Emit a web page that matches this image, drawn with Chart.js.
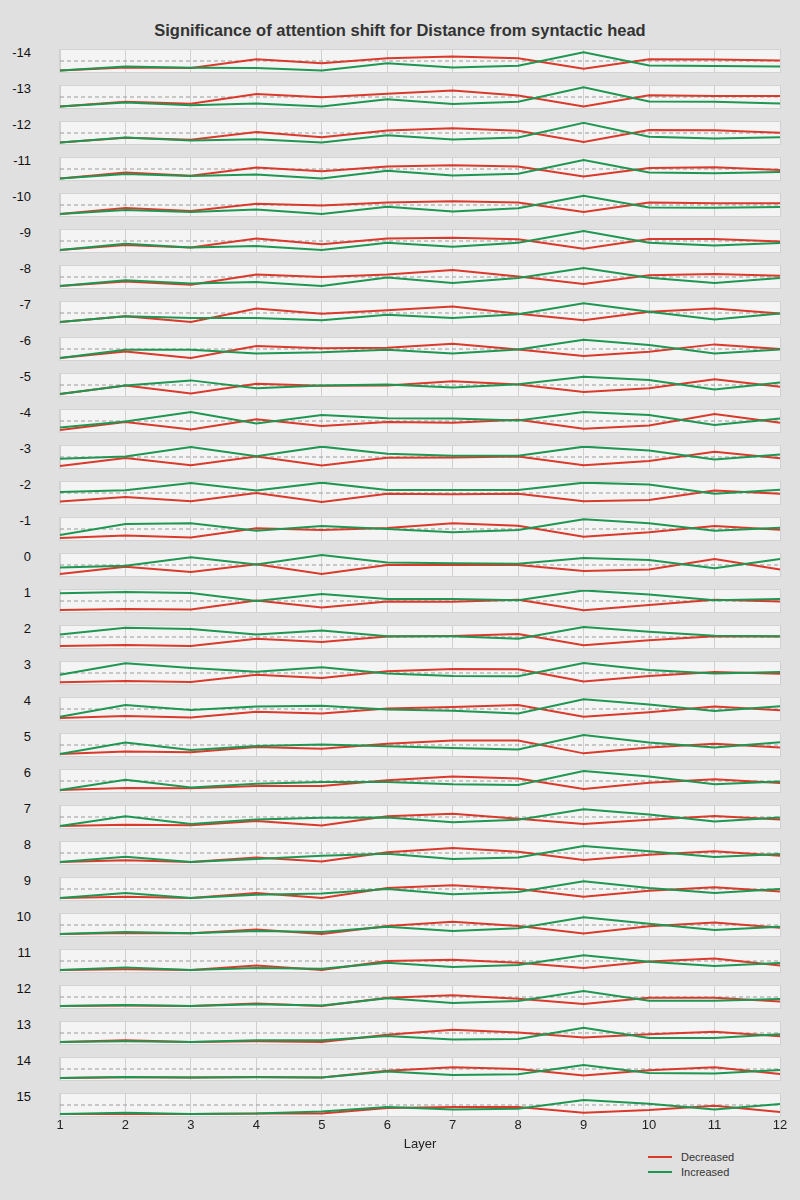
<!DOCTYPE html>
<html>
<head>
<meta charset="utf-8">
<script src="https://cdn.jsdelivr.net/npm/chart.js@4"></script>
<style>
  html, body { margin:0; padding:0; background:#e0e0e0; }
  #wrap { position:relative; width:800px; height:1200px; font-family:'Liberation Sans', Arial, sans-serif; }
  #title { position:absolute; left:0; top:21px; width:800px; text-align:center; font-size:16.5px; font-weight:bold; color:#333; }
  .rowlab { position:absolute; width:31px; text-align:right; font-size:13px; color:#111; line-height:16px; }
  .panel { position:absolute; left:0; }
  .leg { position:absolute; left:648px; font-size:11px; color:#333; line-height:14px; }
  .leg i { display:inline-block; width:24px; height:2px; vertical-align:middle; margin-right:9px; margin-top:-2px; }
</style>
</head>
<body>
<div id="wrap">
  <div id="title">Significance of attention shift for Distance from syntactic head</div>
  <div class="leg" style="top:1150px"><i style="background:#d93a2b"></i>Decreased</div>
  <div class="leg" style="top:1165px"><i style="background:#1f9651"></i>Increased</div>
</div>
<script>
// distance rows, top to bottom
const ROWS = [-14,-13,-12,-11,-10,-9,-8,-7,-6,-5,-4,-3,-2,-1,0,1,2,3,4,5,6,7,8,9,10,11,12,13,14,15];
const LAYERS = [1,2,3,4,5,6,7,8,9,10,11,12];
const THRESHOLD = 0.5;

// one list per row, one value per layer
const DECREASED = [
  [0.07,0.21,0.18,0.58,0.40,0.62,0.70,0.63,0.15,0.58,0.57,0.52],
  [0.07,0.28,0.19,0.64,0.49,0.65,0.79,0.57,0.07,0.58,0.55,0.54],
  [0.07,0.28,0.19,0.55,0.31,0.61,0.72,0.60,0.09,0.64,0.63,0.51],
  [0.07,0.34,0.19,0.57,0.40,0.61,0.67,0.61,0.16,0.55,0.58,0.46],
  [0.09,0.36,0.23,0.56,0.48,0.61,0.67,0.61,0.18,0.61,0.58,0.58],
  [0.09,0.32,0.20,0.61,0.35,0.61,0.65,0.58,0.15,0.59,0.59,0.48],
  [0.09,0.30,0.15,0.61,0.50,0.61,0.82,0.52,0.18,0.58,0.64,0.56],
  [0.09,0.35,0.09,0.70,0.47,0.62,0.80,0.47,0.17,0.56,0.70,0.48],
  [0.09,0.39,0.09,0.64,0.53,0.56,0.74,0.48,0.18,0.38,0.71,0.50],
  [0.09,0.48,0.11,0.56,0.47,0.48,0.67,0.52,0.18,0.35,0.76,0.42],
  [0.09,0.45,0.11,0.58,0.27,0.45,0.42,0.56,0.15,0.30,0.82,0.42],
  [0.09,0.45,0.12,0.52,0.11,0.47,0.48,0.52,0.12,0.32,0.74,0.44],
  [0.11,0.32,0.12,0.50,0.09,0.47,0.44,0.47,0.12,0.18,0.61,0.47],
  [0.09,0.21,0.11,0.53,0.45,0.55,0.76,0.65,0.15,0.35,0.64,0.47],
  [0.09,0.42,0.18,0.53,0.09,0.50,0.50,0.50,0.23,0.30,0.77,0.30],
  [0.09,0.14,0.11,0.52,0.20,0.48,0.47,0.56,0.08,0.32,0.56,0.48],
  [0.09,0.14,0.09,0.42,0.27,0.52,0.55,0.64,0.12,0.35,0.53,0.52],
  [0.08,0.14,0.09,0.42,0.27,0.58,0.68,0.67,0.11,0.36,0.55,0.47],
  [0.09,0.18,0.11,0.38,0.30,0.52,0.59,0.68,0.15,0.35,0.61,0.44],
  [0.09,0.20,0.17,0.41,0.33,0.56,0.70,0.70,0.12,0.39,0.56,0.39],
  [0.09,0.18,0.17,0.27,0.27,0.53,0.71,0.61,0.14,0.42,0.58,0.41],
  [0.09,0.15,0.12,0.32,0.11,0.53,0.65,0.42,0.18,0.38,0.55,0.39],
  [0.09,0.17,0.09,0.30,0.11,0.53,0.73,0.56,0.18,0.42,0.58,0.38],
  [0.09,0.15,0.09,0.32,0.09,0.55,0.67,0.50,0.15,0.42,0.58,0.39],
  [0.09,0.14,0.12,0.29,0.09,0.45,0.65,0.45,0.11,0.44,0.61,0.38],
  [0.09,0.12,0.09,0.30,0.09,0.50,0.56,0.42,0.18,0.48,0.61,0.30],
  [0.09,0.11,0.09,0.20,0.09,0.47,0.58,0.42,0.18,0.47,0.47,0.30],
  [0.09,0.17,0.09,0.12,0.09,0.42,0.65,0.52,0.29,0.44,0.56,0.35],
  [0.09,0.12,0.11,0.14,0.11,0.42,0.58,0.50,0.20,0.44,0.58,0.27],
  [0.09,0.09,0.09,0.11,0.11,0.36,0.41,0.41,0.15,0.27,0.47,0.18]
];

const INCREASED = [
  [0.07,0.25,0.19,0.18,0.07,0.40,0.21,0.28,0.90,0.30,0.27,0.25],
  [0.07,0.25,0.13,0.21,0.07,0.40,0.18,0.28,0.94,0.30,0.28,0.21],
  [0.07,0.30,0.16,0.22,0.07,0.40,0.21,0.30,0.96,0.33,0.25,0.31],
  [0.07,0.27,0.18,0.25,0.07,0.42,0.21,0.28,0.91,0.34,0.31,0.36],
  [0.09,0.27,0.18,0.30,0.09,0.42,0.20,0.35,0.92,0.39,0.38,0.41],
  [0.09,0.38,0.20,0.27,0.09,0.42,0.24,0.42,0.95,0.42,0.30,0.41],
  [0.09,0.35,0.20,0.27,0.09,0.48,0.23,0.45,0.91,0.47,0.23,0.45],
  [0.09,0.35,0.27,0.27,0.17,0.42,0.27,0.44,0.94,0.56,0.21,0.48],
  [0.09,0.47,0.47,0.30,0.35,0.47,0.30,0.48,0.92,0.68,0.30,0.48],
  [0.09,0.48,0.71,0.35,0.48,0.52,0.39,0.53,0.88,0.73,0.30,0.61],
  [0.21,0.48,0.91,0.39,0.77,0.62,0.61,0.52,0.91,0.77,0.32,0.61],
  [0.42,0.52,0.95,0.53,0.97,0.65,0.56,0.56,0.97,0.80,0.39,0.61],
  [0.55,0.62,0.95,0.61,0.97,0.64,0.64,0.64,0.97,0.89,0.47,0.65],
  [0.23,0.73,0.76,0.42,0.64,0.50,0.35,0.45,0.94,0.76,0.42,0.56],
  [0.39,0.47,0.85,0.52,0.95,0.61,0.58,0.56,0.82,0.73,0.35,0.77],
  [0.85,0.91,0.86,0.50,0.82,0.59,0.59,0.53,0.98,0.80,0.53,0.59],
  [0.61,0.92,0.86,0.61,0.80,0.53,0.53,0.42,0.95,0.74,0.56,0.53],
  [0.42,0.94,0.73,0.56,0.76,0.48,0.36,0.35,0.95,0.64,0.48,0.55],
  [0.15,0.68,0.45,0.61,0.65,0.48,0.42,0.30,0.94,0.70,0.41,0.62],
  [0.09,0.61,0.27,0.45,0.52,0.44,0.36,0.30,0.95,0.61,0.39,0.62],
  [0.09,0.56,0.20,0.38,0.45,0.45,0.35,0.32,0.95,0.70,0.35,0.48],
  [0.09,0.53,0.18,0.39,0.47,0.48,0.26,0.38,0.85,0.61,0.30,0.48],
  [0.09,0.33,0.09,0.23,0.38,0.47,0.23,0.30,0.82,0.58,0.32,0.45],
  [0.09,0.32,0.09,0.24,0.30,0.50,0.26,0.36,0.85,0.55,0.32,0.50],
  [0.09,0.18,0.12,0.23,0.18,0.42,0.23,0.35,0.85,0.56,0.27,0.42],
  [0.09,0.21,0.09,0.18,0.15,0.42,0.23,0.32,0.76,0.47,0.27,0.41],
  [0.09,0.14,0.09,0.17,0.11,0.44,0.23,0.32,0.77,0.33,0.33,0.41],
  [0.09,0.12,0.09,0.17,0.17,0.36,0.20,0.23,0.74,0.27,0.27,0.44],
  [0.09,0.14,0.11,0.12,0.11,0.39,0.23,0.26,0.68,0.32,0.29,0.45],
  [0.09,0.15,0.09,0.11,0.20,0.41,0.30,0.33,0.73,0.56,0.30,0.55]
];

(function(){
  const wrap = document.getElementById('wrap');
  const RED = '#d93a2b', GREEN = '#1f9651';
  const firstTop = 50, step = 36, panelH = 22;
  const axisH = 36; // tick labels + "Layer" under the last panel

  // panel background + frame behind the lines
  const panelBg = {
    id: 'panelBg',
    beforeDraw(chart){
      const {ctx, chartArea:a} = chart;
      ctx.save();
      ctx.fillStyle = '#f4f4f4';
      ctx.fillRect(a.left, a.top, a.width, a.height);
      ctx.strokeStyle = '#d3d3d3';
      ctx.lineWidth = 1;
      ctx.strokeRect(a.left - 0.5, a.top - 0.5, a.width + 1, a.height + 1);
      ctx.restore();
    }
  };

  const font = { size: 13, family: "'Liberation Sans', Arial, sans-serif" };

  ROWS.forEach((row, i)=>{
    const top = firstTop + step*i;
    const last = i === ROWS.length - 1;

    const lab = document.createElement('div');
    lab.className = 'rowlab';
    lab.style.left = '0px';
    lab.style.top = (top - 5) + 'px';
    lab.textContent = String(row);
    wrap.appendChild(lab);

    const cv = document.createElement('canvas');
    const h = last ? panelH + 1 + axisH : panelH + 2;
    cv.width = 800; cv.height = h;
    cv.className = 'panel';
    cv.style.top = (top - 1) + 'px';
    cv.style.width = '800px'; cv.style.height = h + 'px';
    wrap.appendChild(cv);

    new Chart(cv, {
      type: 'line',
      data: {
        labels: LAYERS,
        datasets: [
          { label: 'Increased', data: INCREASED[i], borderColor: GREEN, borderWidth: 2, pointRadius: 0, order: 0 },
          { label: 'Decreased', data: DECREASED[i], borderColor: RED, borderWidth: 2, pointRadius: 0, order: 1 },
          { label: 'threshold', data: LAYERS.map(()=>THRESHOLD), borderColor: '#9a9a9a', borderWidth: 1, borderDash: [4,3], pointRadius: 0, order: 2 }
        ]
      },
      options: {
        responsive: false,
        animation: false,
        events: [],
        layout: { padding: { left: 60, right: 20, top: 1, bottom: last ? 0 : 1 } },
        plugins: { legend: { display: false }, tooltip: { enabled: false } },
        scales: {
          x: {
            display: true,
            grid: { color: '#d0d0d0', drawTicks: false },
            border: { display: false },
            ticks: last ? { display: true, color: '#222', font, padding: 2, maxRotation: 0, autoSkip: false } : { display: false },
            title: last ? { display: true, text: 'Layer', color: '#222', font, padding: { top: 1, bottom: 0 } } : { display: false },
            afterFit: last ? (s)=>{ s.height = axisH; } : undefined
          },
          y: { display: false, min: 0, max: 1 }
        }
      },
      plugins: [panelBg]
    });
  });
})();
</script>
</body>
</html>
